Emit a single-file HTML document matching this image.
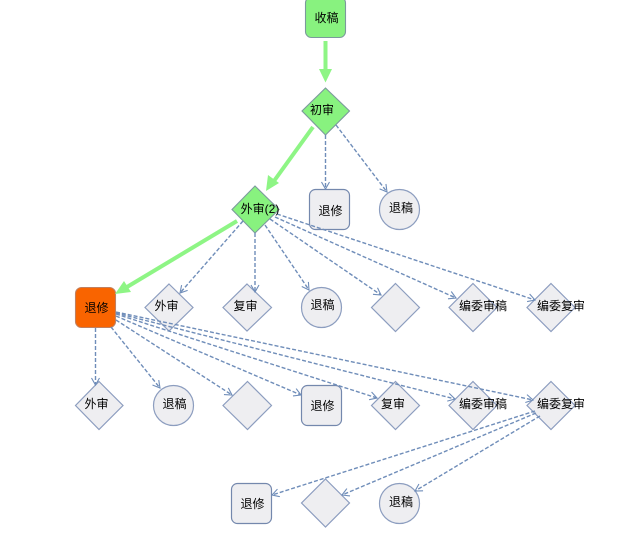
<!DOCTYPE html>
<html>
<head>
<meta charset="utf-8">
<style>
html,body{margin:0;padding:0;background:#fff;width:644px;height:535px;overflow:hidden}
svg{display:block}
text{font-family:"Liberation Sans","WenQuanYi Zen Hei","Noto Sans CJK SC",sans-serif;font-size:12px;fill:#000;text-anchor:middle}
.n{fill:#eeeef1;stroke:#8c9dbf;stroke-width:1.2}
.r{fill:#eeeef1;stroke:#7488ad;stroke-width:1.2}
.g{fill:#88f27f;stroke:#7b9a9c;stroke-width:1.1}
.e{fill:none;stroke:#6f8db9;stroke-width:1.4;stroke-dasharray:4 2;marker-end:url(#a)}
.t{fill:none;stroke:#8ef585;stroke-width:4}
.h{fill:#8ef585}
</style>
</head>
<body>
<svg width="644" height="535" viewBox="0 0 644 535" xmlns="http://www.w3.org/2000/svg">
<defs>
<marker id="a" markerUnits="userSpaceOnUse" markerWidth="10" markerHeight="10" refX="8" refY="4.5" orient="auto">
<path d="M1 0.5L8 4.5L1 8.5" fill="none" stroke="#6f8db9" stroke-width="1.1"/>
</marker>
</defs>

<!-- nodes -->
<rect class="g" x="305.5" y="-3" width="40" height="40.5" rx="6"/>
<polygon class="g" points="325.5,88 349.5,111 325.5,135 302,111"/>
<polygon class="g" points="255,186 279,209.500 255,233 232,209.500"/>
<rect class="r" x="309.500" y="189.500" width="40" height="40" rx="6"/>
<circle class="n" cx="399.500" cy="209.500" r="20"/>

<rect x="75.500" y="287.500" width="40" height="40" rx="6" fill="#f96400" stroke="#c08060" stroke-width="1.100"/>
<polygon class="n" points="169,284 193,307.500 169,331 145,307.500"/>
<polygon class="n" points="247,284 271.500,307.500 247,331 223,307.500"/>
<circle class="n" cx="321.500" cy="307.500" r="20"/>
<polygon class="n" points="395.500,283.500 419.500,307.500 395.500,331.500 371.500,307.500"/>
<polygon class="n" points="473,283.500 497,307.500 473,331.500 449,307.500"/>
<polygon class="n" points="551,283.500 575,307.500 551,331.500 527,307.500"/>

<polygon class="n" points="99,381.500 123,405.500 99,429.500 75.500,405.500"/>
<circle class="n" cx="173.500" cy="405.500" r="20"/>
<polygon class="n" points="247.500,381.500 271.500,405.500 247.500,429.500 223,405.500"/>
<rect class="r" x="301.500" y="385.500" width="40" height="40" rx="6"/>
<polygon class="n" points="395.500,381.500 419.500,405.500 395.500,429.500 371.500,405.500"/>
<polygon class="n" points="473,381.500 497,405.500 473,429.500 449,405.500"/>
<polygon class="n" points="551,381.500 575,405.500 551,429.500 527,405.500"/>

<rect class="r" x="231.500" y="483.500" width="40" height="40" rx="6"/>
<polygon class="n" points="325.500,479 349.500,503 325.500,527 301.500,503"/>
<circle class="n" cx="399.500" cy="503.500" r="20"/>

<!-- thick edges -->
<path class="t" d="M325.500 41V72"/>
<polygon class="h" points="319,69 332,69 325.500,82.500"/>
<path class="t" d="M313 127L274 181"/>
<polygon class="h" points="268,175 279,183 266,191"/>
<path class="t" d="M237 221L127 287"/>
<polygon class="h" points="124,281 131,292 115,294"/>

<!-- dashed edges -->
<path class="e" d="M325.500 135V189"/>
<path class="e" d="M336 125L387 192"/>
<path class="e" d="M243 221L180 293"/>
<path class="e" d="M255 233V292"/>
<path class="e" d="M265 225L309 290"/>
<path class="e" d="M270 219L381 295"/>
<path class="e" d="M275 217L456 298"/>
<path class="e" d="M277 214L535 300"/>

<path class="e" d="M95.500 328V385"/>
<path class="e" d="M111 327L160 388"/>
<path class="e" d="M116 320L232 395"/>
<path class="e" d="M116 316L301 395"/>
<path class="e" d="M116 314L377 398"/>
<path class="e" d="M116 313L455 399"/>
<path class="e" d="M116 312L533 400"/>

<path class="e" d="M535 411L272 495"/>
<path class="e" d="M536 413L342 495"/>
<path class="e" d="M540 416L415 491"/>

<!-- labels -->
<text x="326.500" y="22">收稿</text>
<text x="322" y="114">初审</text>
<text x="260" y="213">外审(2)</text>
<text x="330.500" y="215">退修</text>
<text x="401" y="212">退稿</text>

<text x="96.500" y="312">退修</text>
<text x="166.500" y="310">外审</text>
<text x="245.500" y="310">复审</text>
<text x="322.500" y="309">退稿</text>
<text x="483" y="310">编委审稿</text>
<text x="561" y="310">编委复审</text>

<text x="96.500" y="408">外审</text>
<text x="174.500" y="408">退稿</text>
<text x="322.500" y="410">退修</text>
<text x="393" y="408">复审</text>
<text x="483" y="408">编委审稿</text>
<text x="561" y="408">编委复审</text>

<text x="252.500" y="508">退修</text>
<text x="401" y="506">退稿</text>
</svg>
</body>
</html>
